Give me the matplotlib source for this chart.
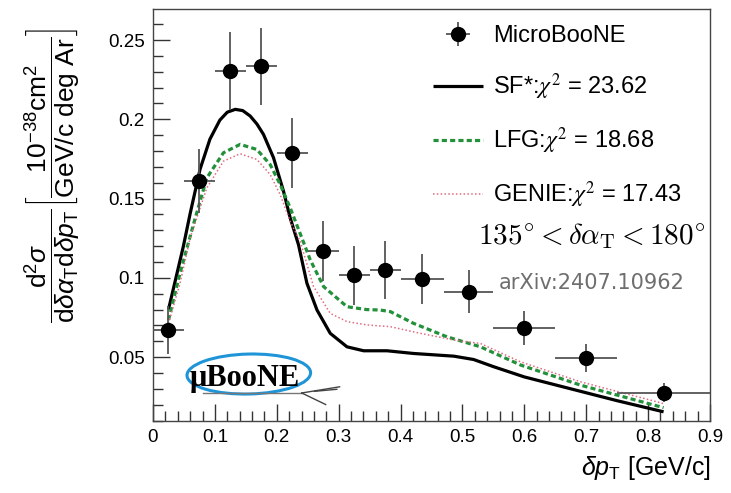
"""
MicroBooNE cross section in delta p_T for 135 < delta alpha_T < 180 deg
"""
import numpy as np

import matplotlib

matplotlib.use("Agg")
import matplotlib.pyplot as plt  # noqa:E402
from matplotlib.patches import Ellipse  # noqa:E402

# data points (bin centres, bin edges, values, errors)
data_x = [0.025, 0.075, 0.125, 0.175, 0.225, 0.275, 0.325, 0.375, 0.435, 0.51, 0.6, 0.7, 0.825]
bin_lo = [0.0, 0.05, 0.1, 0.15, 0.2, 0.25, 0.3, 0.35, 0.4, 0.47, 0.55, 0.65, 0.75]
bin_hi = [0.05, 0.1, 0.15, 0.2, 0.25, 0.3, 0.35, 0.4, 0.47, 0.55, 0.65, 0.75, 0.9]
data_y = [0.067, 0.161, 0.2305, 0.2335, 0.179, 0.117, 0.1015, 0.105, 0.0992, 0.0913, 0.0683, 0.0492, 0.0274]
data_err = [0.015, 0.020, 0.0245, 0.0243, 0.0221, 0.019, 0.0188, 0.0185, 0.016, 0.0137, 0.0105, 0.0089, 0.006]

# model curves
sf_x = [0.025, 0.049, 0.06, 0.076, 0.092, 0.108, 0.12, 0.133, 0.145, 0.157, 0.168, 0.1785,
        0.1947, 0.2109, 0.2217, 0.2351, 0.2487, 0.265, 0.2864, 0.3134, 0.3403, 0.378, 0.421,
        0.486, 0.518, 0.55, 0.6, 0.65, 0.7, 0.75, 0.825]
sf_y = [0.080, 0.1198, 0.1405, 0.1685, 0.1875, 0.1995, 0.2045, 0.2063, 0.2055, 0.2021, 0.197, 0.1905,
        0.1758, 0.1546, 0.1378, 0.1209, 0.0966, 0.0797, 0.065, 0.0565, 0.054, 0.054, 0.0523,
        0.0506, 0.0485, 0.044, 0.0375, 0.0325, 0.0275, 0.0225, 0.0155]

lfg_x = [0.025, 0.0437, 0.0652, 0.0869, 0.1138, 0.1408, 0.1678, 0.1893, 0.2055, 0.2217, 0.2406,
         0.254, 0.2756, 0.3134, 0.345, 0.367, 0.3835, 0.421, 0.475, 0.529, 0.594, 0.691, 0.825]
lfg_y = [0.0734, 0.103, 0.1335, 0.163, 0.1789, 0.1842, 0.181, 0.1715, 0.1589, 0.1441, 0.1251,
         0.1114, 0.0945, 0.0818, 0.080, 0.0797, 0.0787, 0.0713, 0.0628, 0.0565, 0.045, 0.0323, 0.0181]

genie_x = [0.025, 0.0437, 0.06, 0.0869, 0.1138, 0.1408, 0.1678, 0.1893, 0.2055, 0.2217, 0.2379,
           0.2594, 0.2864, 0.3134, 0.3458, 0.3835, 0.432, 0.486, 0.529, 0.594, 0.691, 0.825]
genie_y = [0.0713, 0.0966, 0.1251, 0.1567, 0.1736, 0.1783, 0.1747, 0.1652, 0.1525, 0.1356, 0.123,
           0.0945, 0.0776, 0.0724, 0.0703, 0.0692, 0.065, 0.0608, 0.0586, 0.047, 0.0344, 0.0207]

labels = ["MicroBooNE", r"SF*:$\chi^2$ = 23.62", r"LFG:$\chi^2$ = 18.68", r"GENIE:$\chi^2$ = 17.43"]

GREEN = "#23903a"
PINK = "#e06c80"
ERR_GRAY = "#555555"


def setup_fonts():
    plt.rcParams.update({
        "font.family": ["Liberation Sans", "DejaVu Sans"],
        "mathtext.fontset": "custom",
        "mathtext.rm": "Liberation Sans",
        "mathtext.it": "Liberation Sans:italic",
        "mathtext.bf": "Liberation Sans:bold",
    })


def style_axes(ax):
    ax.set_xlim(0, 0.9)
    ax.set_ylim(0.0097, 0.2696)
    ax.set_xticks(np.arange(0, 0.91, 0.1))
    ax.set_xticklabels(["0", "0.1", "0.2", "0.3", "0.4", "0.5", "0.6", "0.7", "0.8", "0.9"])
    ax.set_xticks(np.arange(0, 0.9, 0.02), minor=True)
    ax.set_yticks([0.05, 0.1, 0.15, 0.2, 0.25])
    ax.set_yticklabels(["0.05", "0.1", "0.15", "0.2", "0.25"])
    ax.set_yticks(np.arange(0.01, 0.27, 0.01), minor=True)
    ax.tick_params(which="both", direction="in", top=False, right=False, labelsize=13.5,
                   width=1.0, color="#333333")
    ax.tick_params(which="major", length=12, pad=6)
    ax.tick_params(which="minor", length=7)
    for sp in ax.spines.values():
        sp.set_linewidth(1.0)
        sp.set_color("#444444")


def draw_logo(ax):
    ell = Ellipse((0.172, 0.114), 0.222, 0.097, angle=2, transform=ax.transAxes,
                  fill=False, edgecolor="#1f95d8", linewidth=2.2)
    ax.add_patch(ell)
    ax.text(0.165, 0.104, "\u03bcBooNE", transform=ax.transAxes, ha="center", va="center",
            fontsize=22, fontweight="bold", family="Liberation Serif")
    # neutrino track sketch
    ax.plot([0.09, 0.267], [0.068, 0.068], transform=ax.transAxes, color="#777777", lw=1.0)
    ax.plot([0.267, 0.335], [0.068, 0.083], transform=ax.transAxes, color="#444444", lw=1.0)
    ax.plot([0.267, 0.31], [0.068, 0.040], transform=ax.transAxes, color="#444444", lw=1.0)
    ax.plot([0.29, 0.33], [0.072, 0.077], transform=ax.transAxes, color="#444444", lw=1.0)


def main():
    setup_fonts()
    fig = plt.figure(figsize=(7.31, 4.93), dpi=100)
    ax = fig.add_axes([153 / 731, 1 - 421 / 493, 557 / 731, 412 / 493])

    sf_line, = ax.plot(sf_x, sf_y, color="black", lw=2.3, solid_capstyle="butt")
    lfg_line, = ax.plot(lfg_x, lfg_y, color=GREEN, lw=2.3, ls=(0, (1.6, 1.0)))
    genie_line, = ax.plot(genie_x, genie_y, color=PINK, lw=1.1, ls=(0, (1.0, 1.5)))

    x = np.array(data_x)
    xerr = [x - np.array(bin_lo), np.array(bin_hi) - x]
    data = ax.errorbar(x, data_y, yerr=data_err, xerr=xerr, fmt="o", color="black",
                       markersize=10, ecolor=ERR_GRAY, elinewidth=1.3, capsize=0, zorder=5)

    style_axes(ax)
    draw_logo(ax)

    leg = ax.legend([data, sf_line, lfg_line, genie_line], labels, loc="upper left",
                    bbox_to_anchor=(0.503, 0.96), frameon=False, fontsize=17,
                    handlelength=2.1, handletextpad=0.45, labelspacing=1.0,
                    borderpad=0, borderaxespad=0)
    for t in leg.get_texts():
        t.set_math_fontfamily("stix")

    ax.text(0.991, 0.449, r"$135^{\circ} < \delta\alpha_{\mathrm{T}} < 180^{\circ}$",
            transform=ax.transAxes, ha="right", va="center", fontsize=21, math_fontfamily="cm")
    ax.text(0.955, 0.335, "arXiv:2407.10962", transform=ax.transAxes, ha="right", va="center",
            fontsize=15, color="#6e6e6e", family="DejaVu Sans")

    fig.text(711 / 731, 1 - 468 / 493, r"$\delta p_{\mathrm{T}}$ [GeV/c]", ha="right",
             va="center", fontsize=18)
    ylab = (r"$\dfrac{\mathrm{d}^{2}\sigma}{\mathrm{d}\delta\alpha_{\mathrm{T}}\mathrm{d}\delta p_{\mathrm{T}}}"
            r"\left[\dfrac{10^{-38}\mathrm{cm}^{2}}{\mathrm{GeV/c\ deg\ Ar}}\right]$")
    fig.text(52 / 731, 1 - 175 / 493, ylab, rotation=90, ha="center", va="center", fontsize=19)

    fig.savefig("out.png", dpi=100)
    plt.close(fig)


if __name__ == "__main__":
    main()
